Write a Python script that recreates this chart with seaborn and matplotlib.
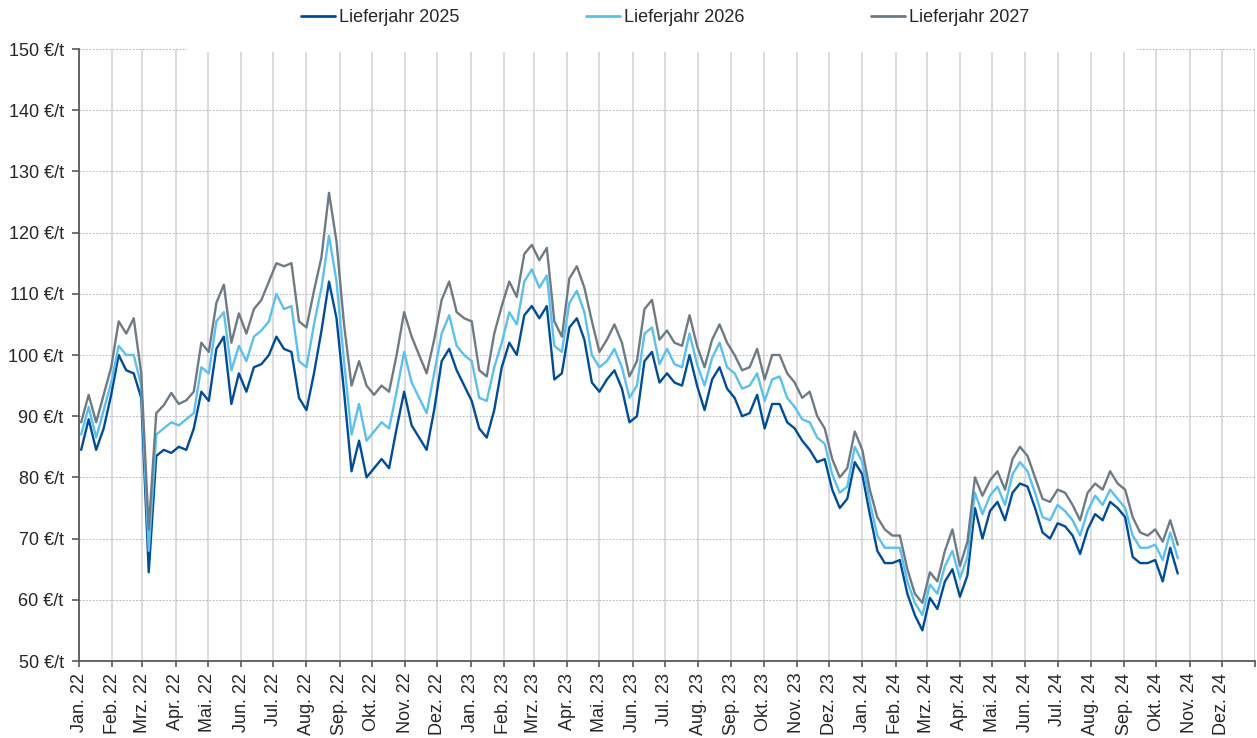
import numpy as np
import pandas as pd
import matplotlib
matplotlib.use("Agg")
import matplotlib.pyplot as plt
import matplotlib.dates as mdates
from matplotlib.patches import Rectangle
from matplotlib.ticker import FuncFormatter, MultipleLocator
import seaborn as sns

# ---- data (weekly readings, €/t) ----
series_names = ["Lieferjahr 2025", "Lieferjahr 2026", "Lieferjahr 2027"]
start_date = "2022-01-03"

lj2025 = [84.5, 89.5, 84.5, 88, 93.5, 100, 97.5, 97, 93, 64.5,
          83.5, 84.5, 84, 85, 84.5, 88, 94, 92.5, 101, 103,
          92, 97, 94, 98, 98.5, 100, 103, 101, 100.5, 93,
          91, 97, 104, 112, 106, 94, 81, 86, 80, 81.5,
          83, 81.5, 88, 94, 88.5, 86.5, 84.5, 91, 99, 101,
          97.5, 95, 92.5, 88, 86.5, 91, 98, 102, 100, 106.5,
          108, 106, 108, 96, 97, 104.5, 106, 102.5, 95.5, 94,
          96, 97.5, 94.5, 89, 90, 99, 100.5, 95.5, 97, 95.5,
          95, 100, 95, 91, 96, 98, 94.5, 93, 90, 90.5,
          93.5, 88, 92, 92, 89, 88, 86, 84.5, 82.5, 83,
          78, 75, 76.5, 82.5, 80.5, 74, 68, 66, 66, 66.5,
          61, 57.5, 55, 60.3, 58.5, 63, 65, 60.5, 64, 75,
          70, 74.5, 76, 73, 77.5, 79, 78.5, 75, 71, 70,
          72.5, 72, 70.5, 67.5, 71.5, 74, 73, 76, 75, 73.5,
          67, 66, 66, 66.5, 63, 68.5, 64.3]

lj2026 = [87, 91.5, 86.5, 91, 95.5, 101.5, 100, 100, 95, 68,
          87, 88, 89, 88.5, 89.5, 90.5, 98, 97, 105.5, 107,
          97.5, 101.5, 99, 103, 104, 105.5, 110, 107.5, 108, 99,
          98, 105, 111, 119.5, 112, 99, 87, 92, 86, 87.5,
          89, 88, 94, 100.5, 95.5, 93, 90.5, 97, 103.5, 106.5,
          101.5, 100, 99, 93, 92.5, 98, 102, 107, 105, 112,
          114, 111, 113, 101.5, 100.5, 108.5, 110.5, 107, 100, 98,
          99, 101, 98, 93, 95, 103.5, 104.5, 98.5, 101, 98.5,
          98, 103.5, 98.5, 95, 99.5, 102, 98, 97, 94.5, 95,
          97, 92.5, 96, 96.5, 93, 91.5, 89.5, 89, 86.5, 85.5,
          80.5, 77.5, 78.5, 85, 82.5, 76, 70.5, 68.5, 68.5, 68.5,
          63, 59.5, 57.5, 62.5, 61, 65.5, 68, 63.5, 67, 77.5,
          74, 77, 78.5, 75.5, 80.5, 82.5, 81, 77.5, 73.5, 73,
          75.5, 74.5, 73, 70.5, 74.5, 77, 75.5, 78, 76.5, 75,
          70.5, 68.5, 68.5, 69, 66.5, 71, 66.8]

lj2027 = [89, 93.5, 89, 93.5, 98, 105.5, 103.5, 106, 97, 71.5,
          90.5, 91.8, 93.8, 92, 92.6, 94, 102, 100.5, 108.5, 111.5,
          102, 106.8, 103.5, 107.5, 109, 112, 115, 114.5, 115, 105.5,
          104.5, 110.5, 116, 126.5, 118.5, 105, 95, 99, 95, 93.5,
          95, 94, 100, 107, 103, 100, 97, 102.5, 109, 112,
          107, 106, 105.5, 97.5, 96.5, 103.5, 108, 112, 109.5, 116.5,
          118, 115.5, 117.5, 105.5, 103, 112.5, 114.5, 111, 105.5, 100.5,
          102.5, 105, 102, 96.5, 99, 107.5, 109, 102.5, 104, 102,
          101.5, 106.5, 101.5, 98, 102.5, 105, 102, 100, 97.5, 98,
          101, 96, 100, 100, 97, 95.5, 93, 94, 90, 88,
          83, 80, 81.5, 87.5, 84.5, 78, 73.5, 71.5, 70.5, 70.5,
          65, 61, 59.5, 64.5, 63, 68, 71.5, 65.5, 69.5, 80,
          77, 79.5, 81, 78, 83, 85, 83.5, 80, 76.5, 76,
          78, 77.5, 75.5, 73, 77.5, 79, 78, 81, 79, 78,
          73.5, 71, 70.5, 71.5, 69.5, 73, 69]

month_names = ["Jan.", "Feb.", "Mrz.", "Apr.", "Mai.", "Jun.",
               "Jul.", "Aug.", "Sep.", "Okt.", "Nov.", "Dez."]

colors = ["#004C97", "#5BC0EE", "#6E7A84"]

# ---- build long-form table ----
dates = pd.date_range(start_date, periods=len(lj2025), freq="7D")
frames = []
for name, vals in zip(series_names, [lj2025, lj2026, lj2027]):
    frames.append(pd.DataFrame({"Datum": dates, "Preis": vals, "Serie": name}))
df = pd.concat(frames, ignore_index=True)

# ---- style ----
sns.set_theme(style="white")
plt.rcParams["font.family"] = ["Liberation Sans", "DejaVu Sans"]

fig = plt.figure(figsize=(12.57, 7.38), dpi=100)
ax = fig.add_axes([79 / 1257, 1 - 661 / 738, (1255 - 79) / 1257, (661 - 49) / 738])

sns.lineplot(data=df, x="Datum", y="Preis", hue="Serie", hue_order=series_names,
             palette=colors, linewidth=1.7, ax=ax, legend=False, zorder=3)

ax.set_xlim(pd.Timestamp("2022-01-01"), pd.Timestamp("2025-01-01"))
ax.set_ylim(50, 150)
ax.yaxis.set_major_locator(MultipleLocator(10))
ax.yaxis.set_major_formatter(FuncFormatter(lambda v, p: f"{int(round(v))} €/t"))

ax.xaxis.set_major_locator(mdates.MonthLocator())
ax.xaxis.set_major_formatter(FuncFormatter(
    lambda v, p: f"{month_names[mdates.num2date(v).month - 1]} {mdates.num2date(v).year % 100:02d}"
    if mdates.num2date(v).year < 2025 else ""))

ax.set_xlabel("")
ax.set_ylabel("")

# grid
ax.grid(False)
ax.xaxis.grid(True, color="#D6D6D6", linewidth=1.2, linestyle="-", zorder=0)
ax.yaxis.grid(True, color="#A8A8A8", linewidth=0.6, linestyle=(0, (2, 2)), zorder=0)
ax.set_axisbelow(True)

for s in ["top", "right"]:
    ax.spines[s].set_visible(False)
for s in ["left", "bottom"]:
    ax.spines[s].set_color("#595959")
    ax.spines[s].set_linewidth(1.3)

ax.tick_params(axis="y", which="major", direction="out", length=5, width=1.2,
               color="#595959", labelsize=13, pad=6, left=True)
ax.tick_params(axis="x", which="major", direction="out", length=4.5, width=1.2,
               color="#595959", labelsize=13, pad=4, bottom=True)
for lab in ax.get_xticklabels():
    lab.set_rotation(90)
    lab.set_ha("center")
    lab.set_va("top")

# white legend box covering top gridline
fig.add_artist(Rectangle((187 / 1257, 1 - 52 / 738), (1137 - 187) / 1257, 52 / 738,
                         transform=fig.transFigure, facecolor="white",
                         edgecolor="none", zorder=5))

handles = [plt.Line2D([], [], color=c, linewidth=2.0) for c in colors]
leg = fig.legend(handles, series_names, loc="center", bbox_to_anchor=(665 / 1257, 1 - 18 / 738),
                 ncol=3, frameon=False, fontsize=13, handlelength=1.9,
                 handletextpad=0.2, columnspacing=7.0)
leg.set_zorder(6)

fig.savefig("out.png", dpi=100, facecolor="white")
